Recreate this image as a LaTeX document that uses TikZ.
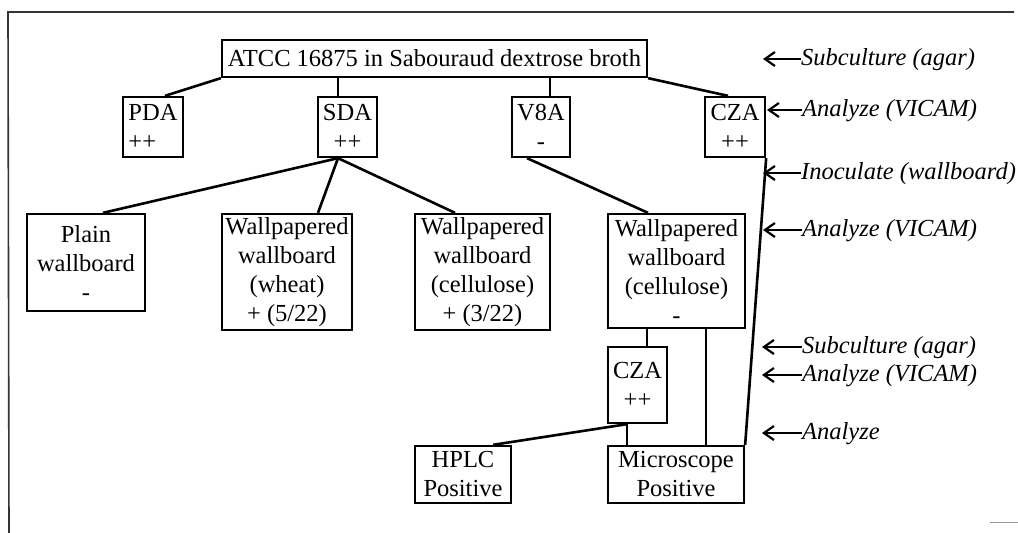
\documentclass[tikz,border=0pt]{standalone}
\usepackage{fontspec}
\setmainfont{Liberation Serif}
\usetikzlibrary{arrows.meta}
\begin{document}
\begin{tikzpicture}[x=1pt,y=-1pt,
  box/.style={draw,line width=2.3pt,rectangle,inner sep=0pt,align=center,
    font=\fontsize{24.5}{29}\selectfont},
  conn/.style={line width=2.6pt},
  note/.style={inner sep=0pt,anchor=base west,font=\fontsize{24.5}{29}\selectfont\itshape},
  arr/.style={line width=1.7pt,-{Straight Barb[length=10pt,width=14pt,line width=2.2pt]}},
  frame/.style={line width=1.6pt,black!80}]
\useasboundingbox (0,0) rectangle (1018,533);
% frame
\coordinate (f1) at (8,12);
\coordinate (f2) at (1014,12);
\coordinate (f3) at (9,533);
\draw[frame] (f2) -- (f1) -- (f3);
\coordinate (g1) at (990,522);
\coordinate (g2) at (1018,522);
\draw[line width=1pt,black!40] (g1) -- (g2);
% boxes
\node[box,minimum width=425pt,minimum height=37pt] (atcc) at (434.5,58.5) {ATCC 16875 in Sabouraud dextrose broth};
\node[box,minimum width=60pt,minimum height=60pt,align=left] (pda) at (153,127) {PDA\\++};
\node[box,minimum width=59pt,minimum height=60pt] (sda) at (347.5,127) {SDA\\++};
\node[box,minimum width=58pt,minimum height=60pt] (v8a) at (541,127) {V8A\\-};
\node[box,minimum width=60pt,minimum height=60pt] (cza) at (735,127) {CZA\\++};
\node[box,minimum width=118pt,minimum height=97pt] (plain) at (86,262.5) {Plain\\wallboard\\-};
\node[box,minimum width=130pt,minimum height=116pt] (wheat) at (287,272) {Wallpapered\\wallboard\\(wheat)\\+ (5/22)};
\node[box,minimum width=135pt,minimum height=116pt] (cell1) at (482.5,272) {Wallpapered\\wallboard\\(cellulose)\\+ (3/22)};
\node[box,minimum width=137pt,minimum height=114pt] (cell2) at (676.5,271) {Wallpapered\\wallboard\\(cellulose)\\-};
\node[box,minimum width=59pt,minimum height=76pt] (cza2) at (637.5,385) {CZA\\++};
\node[box,minimum width=96pt,minimum height=57pt] (hplc) at (463,474.5) {HPLC\\Positive};
\node[box,minimum width=136pt,minimum height=57pt] (micro) at (676,474.5) {Microscope\\Positive};
% connector points
\coordinate (sdatop) at ([xshift=-9.5pt]sda.north);
\coordinate (v8atop) at ([xshift=9pt]v8a.north);
\coordinate (sdabot) at ([xshift=-9.5pt]sda.south);
\coordinate (v8abot) at ([xshift=-14pt]v8a.south);
\coordinate (czatwo) at ([xshift=9.5pt]cza2.north);
\coordinate (microa) at ([xshift=30pt]micro.north);
\coordinate (czabot) at ([xshift=-10.5pt]cza2.south);
% connectors
\draw[conn] (atcc.south west) -- ([xshift=12pt]pda.north);
\draw[conn] (sdatop |- atcc.south) -- (sdatop);
\draw[conn] (v8atop |- atcc.south) -- (v8atop);
\draw[conn] (atcc.south east) -- ([xshift=-7pt]cza.north);
\draw[conn] (sdabot) -- ([xshift=17pt]plain.north);
\draw[conn] (sdabot) -- ([xshift=31pt]wheat.north);
\draw[conn] (sdabot) -- ([xshift=-27.5pt]cell1.north);
\draw[conn] (v8abot) -- ([xshift=-28.5pt]cell2.north);
\draw[conn] (cza.south east) -- (micro.north east);
\draw[conn] (czatwo |- cell2.south) -- (czatwo);
\draw[conn] (microa |- cell2.south) -- (microa);
\draw[conn] (czabot) -- (czabot |- micro.north);
\draw[conn] (czabot) -- ([xshift=30pt]hplc.north);
% notes
\node[note] (n1) at (801,65) {Subculture (agar)};
\node[note] (n2) at (802,116) {Analyze (VICAM)};
\node[note] (n3) at (801,179) {Inoculate (wallboard)};
\node[note] (n4) at (802,236) {Analyze (VICAM)};
\node[note] (n5) at (802,353) {Subculture (agar)};
\node[note] (n6) at (802,381) {Analyze (VICAM)};
\node[note] (n7) at (802,439) {Analyze};
\coordinate (t1) at (763,59);
\coordinate (t2) at (767,110);
\coordinate (t3) at (763,173);
\coordinate (t4) at (763,230);
\coordinate (t5) at (762,347);
\coordinate (t6) at (762,375);
\coordinate (t7) at (762,433);
\foreach \i in {1,...,7}{
  \draw[arr] ([yshift=6pt]n\i.base west) -- (t\i);
}
\end{tikzpicture}
\end{document}
